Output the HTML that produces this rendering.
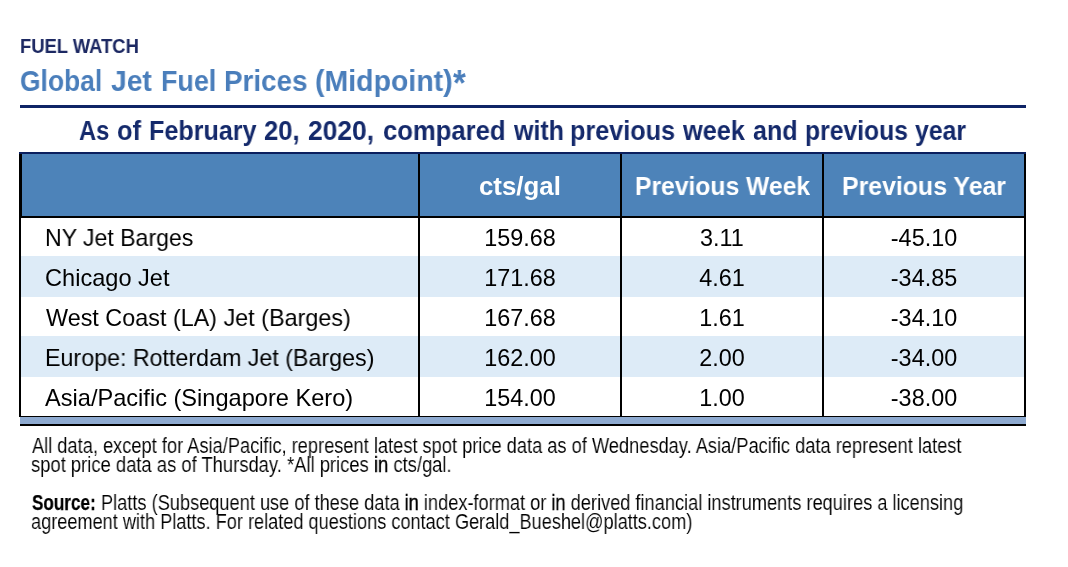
<!DOCTYPE html>
<html>
<head>
<meta charset="utf-8">
<style>
html,body{margin:0;padding:0;background:#fff;}
body{width:1068px;height:567px;position:relative;overflow:hidden;font-family:"Liberation Sans",sans-serif;}
.a{position:absolute;white-space:nowrap;line-height:1;transform-origin:0 0;will-change:transform;}
.b{font-weight:bold;}
.x{position:absolute;}
.k{-webkit-text-stroke:0.4px #000;}
.n{position:absolute;white-space:nowrap;line-height:1;text-align:center;color:#000;will-change:transform;}
</style>
</head>
<body>
<div class="x" style="left:20px;top:105px;width:1006px;height:3px;background:#0f2466;"></div>
<div class="x" style="left:19px;top:152px;width:1007px;height:2px;background:#0b1f5e;"></div>
<div class="x" style="left:22px;top:154px;width:1002px;height:62px;background:#4d83b9;"></div>
<div class="x" style="left:21px;top:256px;width:1003px;height:41px;background:#ddebf7;"></div>
<div class="x" style="left:21px;top:336px;width:1003px;height:41px;background:#ddebf7;"></div>
<div class="x" style="left:19px;top:216px;width:1007px;height:2px;background:#000;"></div>
<div class="x" style="left:19px;top:154px;width:3px;height:62px;background:#000;"></div>
<div class="x" style="left:19px;top:216px;width:2px;height:201px;background:#000;"></div>
<div class="x" style="left:1024px;top:154px;width:2px;height:263px;background:#000;"></div>
<div class="x" style="left:418px;top:154px;width:2px;height:262px;background:#000;"></div>
<div class="x" style="left:620px;top:154px;width:2px;height:262px;background:#000;"></div>
<div class="x" style="left:822px;top:154px;width:2px;height:262px;background:#000;"></div>
<div class="x" style="left:19px;top:415.5px;width:1007px;height:1.5px;background:#000;"></div>
<div class="x" style="left:20px;top:417px;width:1006px;height:7px;background:#8eaad0;"></div>
<div class="x" style="left:20px;top:424px;width:1006px;height:2px;background:#000;"></div>
<div class="a b" style="left:19.86px;top:37.09px;font-size:19.5px;color:#1c2862;transform:scaleX(0.9430);">FUEL WATCH</div>
<div class="a b" style="left:20.42px;top:66.10px;font-size:30px;color:#4a7ebb;transform:scaleX(0.8813);">Global</div>
<div class="a b" style="left:111.20px;top:66.10px;font-size:30px;color:#4a7ebb;transform:scaleX(0.9431);">Jet</div>
<div class="a b" style="left:160.81px;top:66.10px;font-size:30px;color:#4a7ebb;transform:scaleX(0.8965);">Fuel</div>
<div class="a b" style="left:224.05px;top:66.10px;font-size:30px;color:#4a7ebb;transform:scaleX(0.9257);">Prices</div>
<div class="a b" style="left:315.15px;top:66.10px;font-size:30px;color:#4a7ebb;transform:scaleX(0.9493);">(Midpoint)</div>
<div class="a b" style="left:453.20px;top:65.53px;font-size:36px;color:#4a7ebb;transform:scaleX(0.9071);">*</div>
<div class="a b" style="left:79.00px;top:117.94px;font-size:27px;color:#14296b;transform:scaleX(0.8777);">As</div>
<div class="a b" style="left:116.96px;top:117.94px;font-size:27px;color:#14296b;transform:scaleX(0.9414);">of</div>
<div class="a b" style="left:149.37px;top:117.94px;font-size:27px;color:#14296b;transform:scaleX(0.9308);">February</div>
<div class="a b" style="left:263.50px;top:117.94px;font-size:27px;color:#14296b;transform:scaleX(0.9492);">20,</div>
<div class="a b" style="left:308.00px;top:117.94px;font-size:27px;color:#14296b;transform:scaleX(0.9778);">2020,</div>
<div class="a b" style="left:382.55px;top:117.94px;font-size:27px;color:#14296b;transform:scaleX(0.9498);">compared</div>
<div class="a b" style="left:513.63px;top:117.94px;font-size:27px;color:#14296b;transform:scaleX(0.9253);">with</div>
<div class="a b" style="left:569.87px;top:117.94px;font-size:27px;color:#14296b;transform:scaleX(0.9338);">previous</div>
<div class="a b" style="left:682.94px;top:117.94px;font-size:27px;color:#14296b;transform:scaleX(0.9363);">week</div>
<div class="a b" style="left:753.20px;top:117.94px;font-size:27px;color:#14296b;transform:scaleX(0.9289);">and</div>
<div class="a b" style="left:804.79px;top:117.94px;font-size:27px;color:#14296b;transform:scaleX(0.9148);">previous</div>
<div class="a b" style="left:915.00px;top:117.94px;font-size:27px;color:#14296b;transform:scaleX(0.9188);">year</div>
<div class="a b" style="left:479.00px;top:173.70px;font-size:25.4px;color:#fff;transform:scaleX(1.0179);">cts/gal</div>
<div class="a b" style="left:634.53px;top:173.70px;font-size:25.4px;color:#fff;transform:scaleX(0.9719);">Previous Week</div>
<div class="a b" style="left:842.02px;top:173.70px;font-size:25.4px;color:#fff;transform:scaleX(0.9792);">Previous Year</div>
<div class="a" style="left:45.01px;top:227.19px;font-size:23.4px;color:#000;transform:scaleX(0.9858);">NY Jet Barges</div>
<div class="a" style="left:44.99px;top:267.19px;font-size:23.4px;color:#000;transform:scaleX(1.0080);">Chicago Jet</div>
<div class="a" style="left:46.00px;top:307.19px;font-size:23.4px;color:#000;transform:scaleX(0.9992);">West Coast (LA) Jet (Barges)</div>
<div class="a" style="left:45.01px;top:347.19px;font-size:23.4px;color:#000;transform:scaleX(0.9936);">Europe: Rotterdam Jet (Barges)</div>
<div class="a" style="left:45.40px;top:387.19px;font-size:23.4px;color:#000;transform:scaleX(1.0088);">Asia/Pacific (Singapore Kero)</div>
<div class="a" style="left:32.00px;top:435.70px;font-size:21.5px;color:#000;transform:scaleX(0.8488);-webkit-text-stroke:0.1px #fff;">All data, except for Asia/Pacific, represent latest spot price data as of Wednesday. Asia/Pacific data represent latest</div>
<div class="a" style="left:30.60px;top:454.50px;font-size:21.5px;color:#000;transform:scaleX(0.8557);-webkit-text-stroke:0.1px #fff;">spot price data as of Thursday. *All prices <span class="k">in</span> cts/gal.</div>
<div class="a b" style="left:32.00px;top:492.90px;font-size:21.5px;color:#000;transform:scaleX(0.7948);-webkit-text-stroke:0.25px #000;">Source:</div>
<div class="a" style="left:100.95px;top:492.90px;font-size:21.5px;color:#000;transform:scaleX(0.8469);-webkit-text-stroke:0.1px #fff;">Platts (Subsequent use of these data <span class="k">in</span> index-format or <span class="k">in</span> derived financial instruments requires a licensing</div>
<div class="a" style="left:31.20px;top:511.80px;font-size:21.5px;color:#000;transform:scaleX(0.8445);-webkit-text-stroke:0.1px #fff;">agreement with Platts. For related questions contact Gerald_Bueshel@platts.com)</div>
<div class="n" style="left:420px;width:200px;top:227.19px;font-size:23.4px;">159.68</div>
<div class="n" style="left:622px;width:200px;top:227.19px;font-size:23.4px;">3.11</div>
<div class="n" style="left:824px;width:200px;top:227.19px;font-size:23.4px;">-45.10</div>
<div class="n" style="left:420px;width:200px;top:267.19px;font-size:23.4px;">171.68</div>
<div class="n" style="left:622px;width:200px;top:267.19px;font-size:23.4px;">4.61</div>
<div class="n" style="left:824px;width:200px;top:267.19px;font-size:23.4px;">-34.85</div>
<div class="n" style="left:420px;width:200px;top:307.19px;font-size:23.4px;">167.68</div>
<div class="n" style="left:622px;width:200px;top:307.19px;font-size:23.4px;">1.61</div>
<div class="n" style="left:824px;width:200px;top:307.19px;font-size:23.4px;">-34.10</div>
<div class="n" style="left:420px;width:200px;top:347.19px;font-size:23.4px;">162.00</div>
<div class="n" style="left:622px;width:200px;top:347.19px;font-size:23.4px;">2.00</div>
<div class="n" style="left:824px;width:200px;top:347.19px;font-size:23.4px;">-34.00</div>
<div class="n" style="left:420px;width:200px;top:387.19px;font-size:23.4px;">154.00</div>
<div class="n" style="left:622px;width:200px;top:387.19px;font-size:23.4px;">1.00</div>
<div class="n" style="left:824px;width:200px;top:387.19px;font-size:23.4px;">-38.00</div>
</body>
</html>
